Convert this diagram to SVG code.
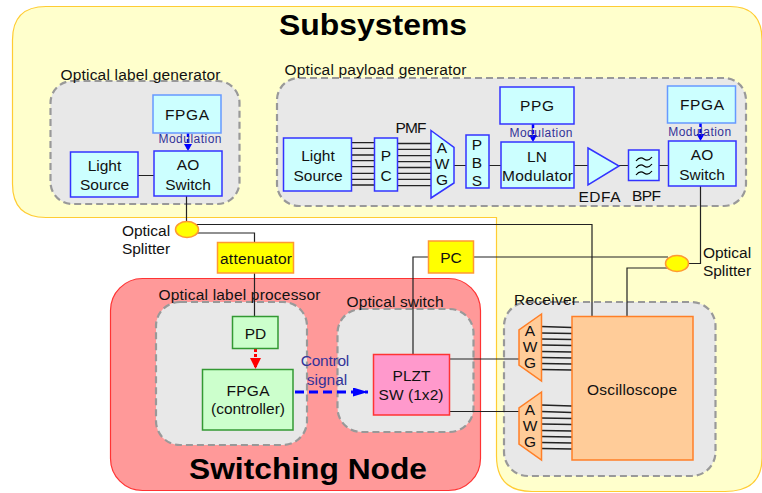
<svg xmlns="http://www.w3.org/2000/svg" width="762" height="493" viewBox="0 0 762 493">
<style>
text{font-family:"Liberation Sans",Arial,sans-serif;font-size:15.5px;fill:#111;text-anchor:middle}
.t{font-weight:bold;font-size:30px;fill:#000}
.l{text-anchor:start}
.m{font-size:12px;fill:#333399}
.c{fill:#333399}
.grp{fill:#e8e8e8;stroke:#999;stroke-width:2.2;stroke-dasharray:7 4}
.b{fill:#ccffff;stroke:#3333ff;stroke-width:1.5}
.bl{fill:#ccffff;stroke:#6699ff;stroke-width:1.5}
.g{fill:#ccffcc;stroke:#339933;stroke-width:1.5}
.y{fill:#ffff00;stroke:#ff9933;stroke-width:1.5}
.o{fill:#ffcc99;stroke:#ff7f27;stroke-width:1.5}
.w{fill:none;stroke:#222;stroke-width:1.2}
.f{fill:none;stroke:#222;stroke-width:1.3}
.mod{fill:none;stroke:#0000ff;stroke-width:2.5;stroke-dasharray:4 2;marker-end:url(#ab)}
</style>
<defs>
<marker id="ab" markerUnits="userSpaceOnUse" markerWidth="12" markerHeight="10" refX="7" refY="4" orient="auto"><path d="M0 0L7 4L0 8Z" fill="#0000ff"/></marker>
<marker id="ac" markerUnits="userSpaceOnUse" markerWidth="14" markerHeight="14" refX="11" refY="5.500" orient="auto"><path d="M0 0L11 5.500L0 11Z" fill="#ff0000"/></marker>
<marker id="ad" markerUnits="userSpaceOnUse" markerWidth="18" markerHeight="12" refX="15" refY="4.500" orient="auto"><path d="M0 0L15 4.500L0 9Z" fill="#0000ff"/></marker>
</defs>
<rect width="762" height="493" fill="#fff"/>
<g id="subsystems">
<path d="M46 6.500H730Q762 6.500 762 40V458Q762 491.500 725 491.500H532Q496.500 491.500 496.500 456V217.500H46Q12.500 217.500 12.500 184V40Q12.500 6.500 46 6.500Z" fill="#ffffcc" stroke="#ffcc33" stroke-width="1.2"/>
<text class="t" x="373" y="35" textLength="188" lengthAdjust="spacingAndGlyphs">Subsystems</text>
</g>
<g id="switching-node">
<rect x="110.500" y="278.500" width="370" height="212" rx="32" fill="#ff9999" stroke="#ff3333" stroke-width="1.2"/>
<text class="t" x="308" y="479" textLength="238" lengthAdjust="spacingAndGlyphs">Switching Node</text>
</g>
<g id="label-generator">
<rect class="grp" x="50.500" y="81" width="189" height="123" rx="22"/>
<text class="l" x="60.500" y="80" textLength="160">Optical label generator</text>
</g>
<g id="payload-generator">
<rect class="grp" x="277" y="78" width="469" height="128" rx="22"/>
<text class="l" x="284.500" y="75" textLength="182">Optical payload generator</text>
</g>
<g id="label-processor">
<rect class="grp" x="156" y="302" width="151" height="143" rx="24"/>
<text class="l" x="158.500" y="300" textLength="162">Optical label processor</text>
</g>
<g id="optical-switch">
<rect class="grp" x="337.500" y="309" width="136" height="123" rx="24"/>
<text class="l" x="346.500" y="307" textLength="97">Optical switch</text>
</g>
<g id="receiver">
<rect class="grp" x="504" y="302" width="211.500" height="174" rx="24"/>
<text class="l" x="514" y="305" textLength="63">Receiver</text>
</g>
<g id="connectors">
<path class="w" d="M138 175.500H154M186.500 196V222M195 224.500H592V316.500M196 233H254.500V242.500M254.500 273V316.500M428.500 257H413V354M473.500 257H668M689 263.500H700.500V186M668 268H627V316.500"/>
<path class="w" d="M450 359H519M449.500 411.500H519"/>
<path class="w" d="M454 165.500H466M489 165.500H501M574 165.500H588M619 165.500H628.500M659 165.500H668.500"/>
<path class="f" d="M351.500 142.700H374.500M351.500 148.300H374.500M351.500 155H374.500M351.500 160.700H374.500M351.500 166.700H374.500M351.500 173.300H374.500M351.500 179.300H374.500M351.500 185H374.500"/>
<path class="f" d="M397.500 143.500H431M397.500 149.300H431M397.500 155.700H431M397.500 161.700H431M397.500 167.500H431M397.500 173.300H431M397.500 179.300H431M397.500 185.700H431"/>
<path class="f" d="M541 326.500L572 327.500M541 333L572 333.500M541 339L572 339.500M541 345L572 345.500M541 351.500L572 352M541 357.500L572 358M541 363.500L572 364M541 369.500L572 370"/>
<path class="f" d="M541 405L572 406M541 411.500L572 412.500M541 418L572 418.500M541 424L572 424.500M541 430.500L572 431M541 436.500L572 437M541 442.500L572 443M541 448.500L572 449"/>
<path class="mod" d="M188 133V151"/>
<path class="mod" d="M533 124V142"/>
<path class="mod" d="M700.500 123V141"/>
<path d="M255.500 349V369" fill="none" stroke="#ff0000" stroke-width="3" stroke-dasharray="3 2" marker-end="url(#ac)"/>
<path d="M295 392H368" fill="none" stroke="#0000ff" stroke-width="3" stroke-dasharray="9 5" marker-end="url(#ad)"/>
</g>
<g id="lg-fpga"><rect class="bl" x="153" y="95" width="68" height="38"/><text x="187" y="120" textLength="44">FPGA</text></g>
<g id="lg-light"><rect class="b" x="70.500" y="152" width="67.500" height="45"/><text x="104.500" y="171">Light</text><text x="104.500" y="190">Source</text></g>
<g id="lg-ao"><rect class="b" x="154" y="151" width="68" height="45"/><text x="188" y="170">AO</text><text x="188" y="190">Switch</text></g>
<g id="pg-light"><rect class="b" x="283.500" y="138" width="68" height="53"/><text x="318" y="161">Light</text><text x="318" y="181">Source</text></g>
<g id="pg-pc"><rect class="b" x="374.500" y="138" width="23" height="53"/><text x="386" y="161">P</text><text x="386" y="181">C</text></g>
<g id="pg-awg"><path class="b" d="M431 130.500L454 147.500V183L431 198Z"/><text x="442" y="153">A</text><text x="442" y="169">W</text><text x="442" y="185">G</text></g>
<g id="pg-pbs"><rect class="b" x="466" y="135" width="23" height="53"/><text x="477" y="150">P</text><text x="477" y="168">B</text><text x="477" y="186">S</text></g>
<g id="pg-ppg"><rect class="b" x="500" y="87" width="74" height="37"/><text x="537" y="111" textLength="34">PPG</text></g>
<g id="pg-ln"><rect class="b" x="501" y="142" width="73" height="46"/><text x="537" y="162">LN</text><text x="537.500" y="181" textLength="71">Modulator</text></g>
<g id="pg-edfa"><path class="b" d="M588 148L619 166L588 185Z"/><text x="599.500" y="202" textLength="42">EDFA</text></g>
<g id="pg-bpf"><rect class="b" x="628.500" y="150" width="30.500" height="30.500"/><path d="M636 161q4-5 8-2t8-2M636 168q4-5 8-2t8-2M636 175q4-5 8-2t8-2" fill="none" stroke="#000" stroke-width="1.2"/><text x="646.500" y="201" textLength="29">BPF</text></g>
<g id="pg-ao"><rect class="b" x="668.500" y="141" width="67.500" height="45"/><text x="702" y="160">AO</text><text x="702" y="180">Switch</text></g>
<g id="pg-fpga"><rect class="bl" x="667.500" y="86" width="68" height="37"/><text x="702" y="110" textLength="44">FPGA</text></g>
<text x="411" y="133" textLength="31">PMF</text>
<text class="m" x="190" y="143" textLength="63">Modulation</text>
<text class="m" x="541" y="137" textLength="63">Modulation</text>
<text class="m" x="699.700" y="136" textLength="63">Modulation</text>
<g id="splitter-1"><ellipse cx="187" cy="229.500" rx="11.500" ry="8" class="y"/><text x="146" y="236">Optical</text><text x="146" y="254">Splitter</text></g>
<g id="splitter-2"><ellipse cx="677" cy="263.500" rx="11.500" ry="8" class="y"/><text x="727" y="258">Optical</text><text x="727" y="276">Splitter</text></g>
<g id="attenuator"><rect class="y" x="217.500" y="242.500" width="76" height="30.500"/><text x="256" y="264" textLength="72">attenuator</text></g>
<g id="pc"><rect class="y" x="428.500" y="241" width="45" height="32"/><text x="451" y="263">PC</text></g>
<g id="pd"><rect class="g" x="232.500" y="316.500" width="45.500" height="32"/><text x="255.500" y="339">PD</text></g>
<g id="fpga-controller"><rect class="g" x="202.500" y="369.500" width="90.500" height="60.500"/><text x="248" y="396" textLength="43">FPGA</text><text x="248" y="414" textLength="74">(controller)</text></g>
<g id="plzt"><rect x="373.500" y="354.500" width="76" height="60.500" fill="#ff99cc" stroke="#ff3333" stroke-width="1.5"/><text x="411.500" y="381">PLZT</text><text x="411" y="400" textLength="65">SW (1x2)</text></g>
<g id="control-label"><text class="c" x="325" y="366" textLength="48.500">Control</text><text class="c" x="327" y="385">signal</text></g>
<g id="awg-1"><path class="o" d="M541.500 314L519 330V365L541.500 381Z"/><text x="530" y="336">A</text><text x="530" y="352">W</text><text x="530" y="368">G</text></g>
<g id="awg-2"><path class="o" d="M541.500 392L519 408V444L541.500 460Z"/><text x="530" y="415">A</text><text x="530" y="431">W</text><text x="530" y="447">G</text></g>
<g id="oscilloscope"><rect class="o" x="572" y="316.500" width="121" height="143.500"/><text x="632" y="395" textLength="90">Oscilloscope</text></g>
</svg>
